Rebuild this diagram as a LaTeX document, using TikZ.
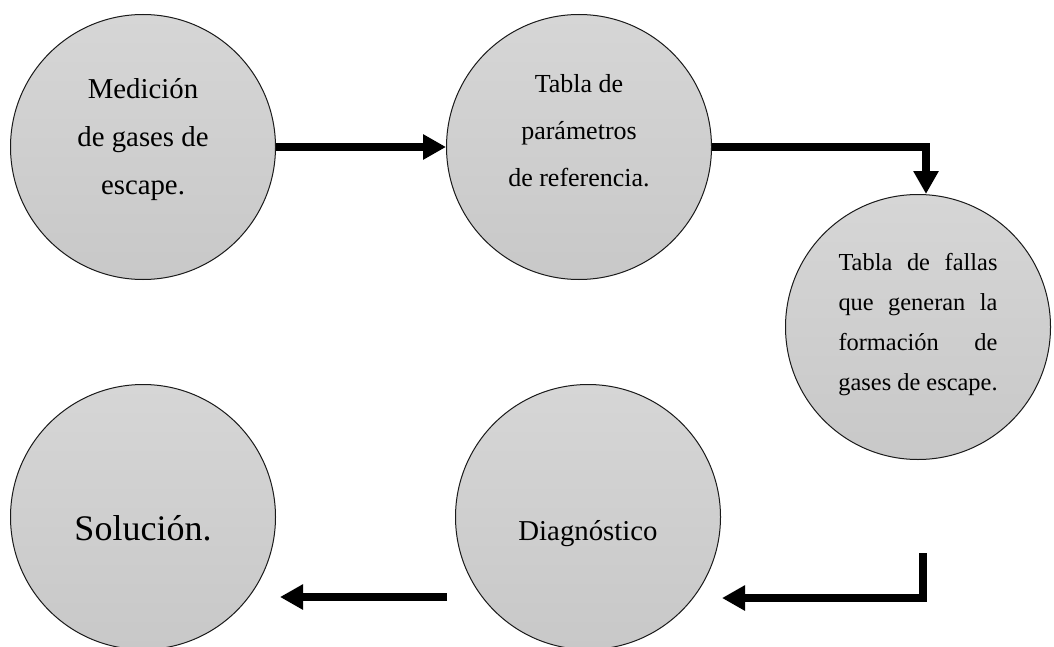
\documentclass[tikz,border=0pt]{standalone}
\usepackage{fontspec}
\setmainfont{Liberation Serif}
\usetikzlibrary{arrows.meta}
\definecolor{pasoTop}{HTML}{D6D6D6}
\definecolor{pasoBot}{HTML}{C8C8C8}
\definecolor{pasoLine}{HTML}{1A1A1A}
\tikzset{
  flujofig/.style={
    x=0.5pt, y=-0.5pt,
    >={Triangle[length=11.5pt, width=12pt]},
  },
  paso/.style={
    circle, draw=pasoLine, line width=0.5pt, top color=pasoTop, bottom color=pasoBot,
    minimum size=132.5pt, inner sep=0pt, align=center,
  },
  flecha/.style={draw=black, line width=4pt, ->, line join=miter},
}
% texto justificado linea por linea
\newcommand{\renglon}[1]{\makebox[79.5pt][s]{#1}}

\begin{document}
\begin{tikzpicture}[flujofig]
  \useasboundingbox (0,0) rectangle (1054,647);
  \node[paso, font=\fontsize{14.4}{24}\selectfont] (Medicion) at (143,147) {Medición\\de gases de\\escape.\\[-13pt]};
  \node[paso, font=\fontsize{13}{23.5}\selectfont] (Tabla) at (579,147) {Tabla de\\parámetros\\de referencia.\\[-7pt]};
  \node[paso, font=\fontsize{12.2}{20}\selectfont] (Fallas) at (918,327) {\renglon{Tabla de fallas}\\\renglon{que generan la}\\\renglon{formación de}\\gases de escape.\\[-15pt]};
  \node[paso, font=\fontsize{14.4}{18}\selectfont, text height=26pt, text depth=3pt] (Diagnostico) at (588,517) {Diagnóstico};
  \node[paso, font=\fontsize{18}{22}\selectfont, text height=23pt, text depth=0pt] (Solucion) at (143,517) {Solución.};
  \coordinate (BajaIni) at (923,553);
  \coordinate (BajaFin) at (722,598);
  \coordinate (VuelveIni) at (447,597);
  \coordinate (VuelveFin) at (280,597);
  \draw[flecha] (Medicion.east) -- (Tabla.west);
  \draw[flecha] (Tabla.east) -| ([xshift=4pt]Fallas.north);
  \draw[flecha] (BajaIni) |- (BajaFin);
  \draw[flecha] (VuelveIni) -- (VuelveFin);
\end{tikzpicture}
\end{document}
